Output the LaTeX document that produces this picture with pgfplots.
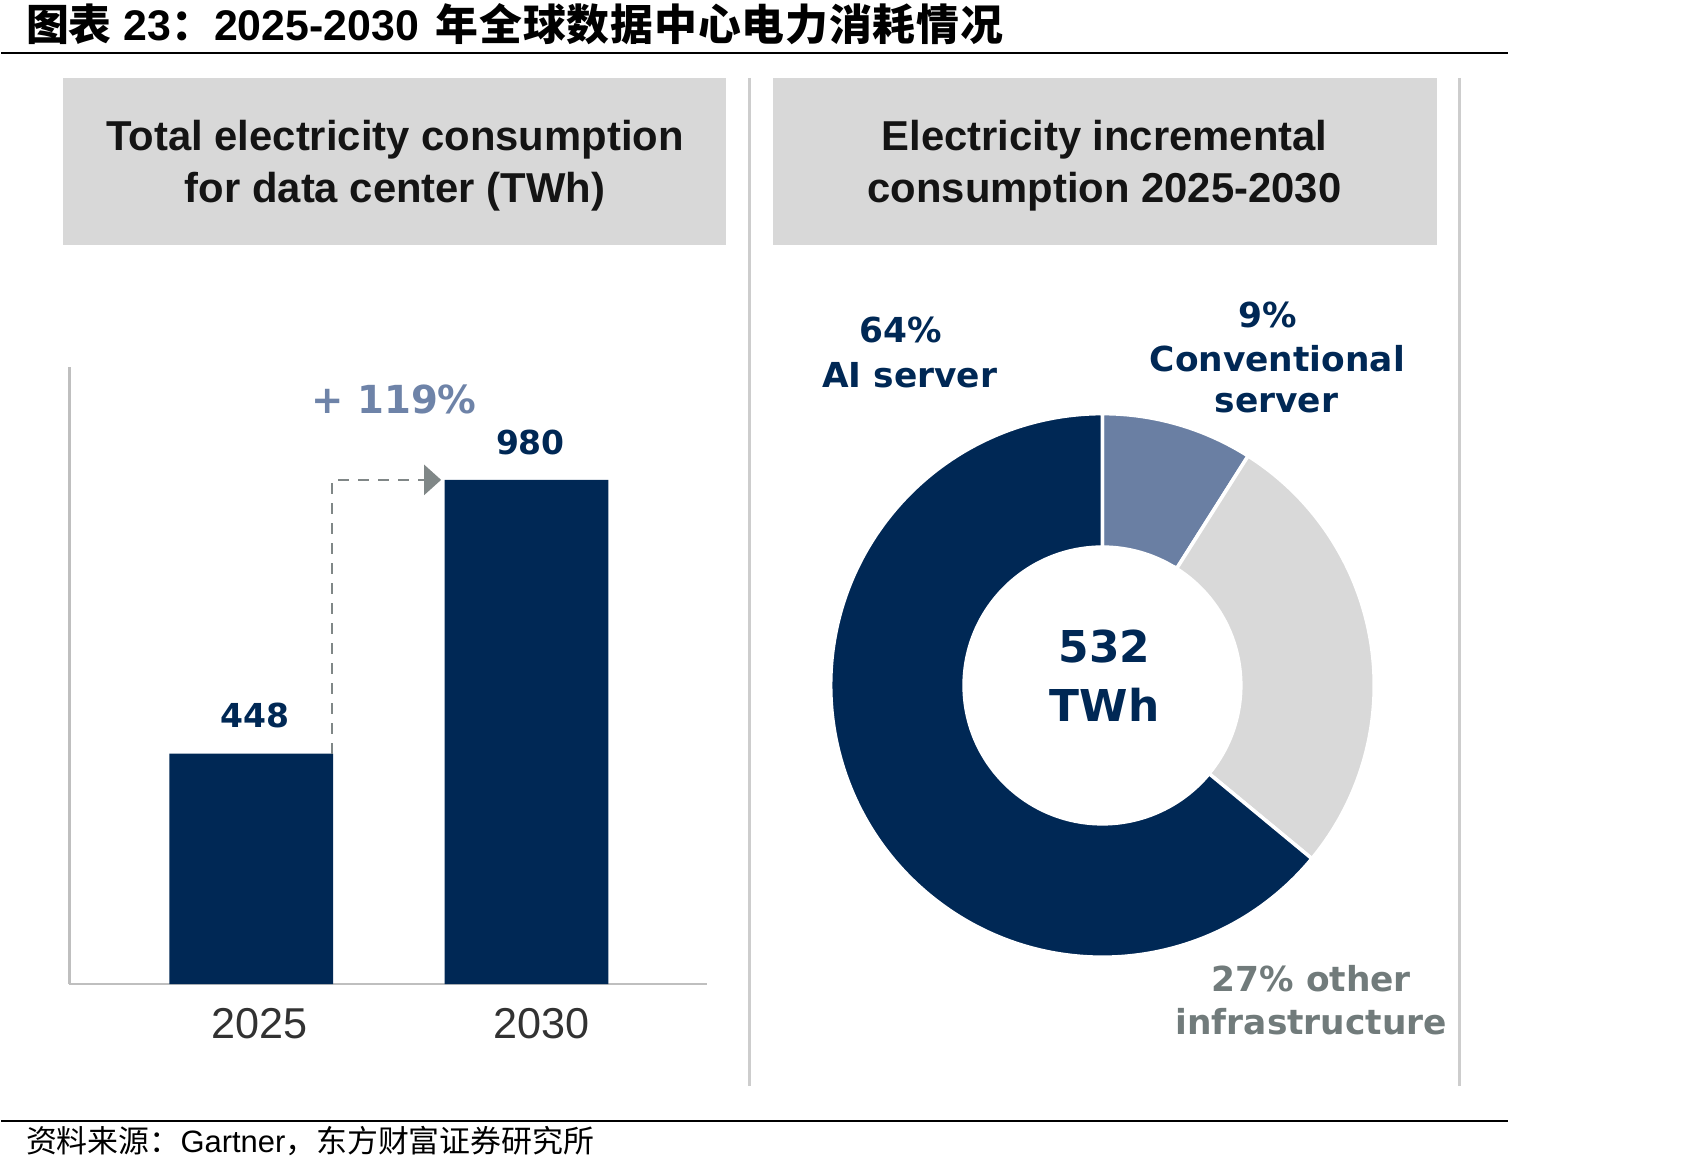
\documentclass[border=0pt]{standalone}
\usepackage{fontspec}
\usepackage{pgfplots}
\pgfplotsset{compat=1.18}
\usetikzlibrary{arrows.meta}
\setmainfont{Liberation Sans}
\newfontfamily\cjk{Noto Sans CJK SC}
\newfontfamily\wide{DejaVu Sans}
\definecolor{navy}{RGB}{0,40,85}
\definecolor{conv}{RGB}{106,127,163}
\definecolor{lightg}{RGB}{217,217,217}
\definecolor{hdr}{RGB}{216,216,216}
\definecolor{plusc}{RGB}{110,131,168}
\definecolor{othergray}{RGB}{113,123,123}
\definecolor{arrowg}{RGB}{128,135,135}
\definecolor{axisg}{RGB}{191,191,191}
\definecolor{divg}{RGB}{205,205,205}
\definecolor{tickc}{RGB}{50,50,50}
\definecolor{hdrtext}{RGB}{20,20,20}
% shares of the 532 TWh increment (%)
\def\shareConv{9}
\def\shareOther{27}
\def\shareAI{64}
\begin{document}
\begin{tikzpicture}
\pgfmathsetmacro\aA{90}
\pgfmathsetmacro\aB{\aA-3.6*\shareConv}
\pgfmathsetmacro\aC{\aB-3.6*\shareOther}
\pgfmathsetmacro\aD{\aC-3.6*\shareAI}
\begin{scope}[x=0.1mm,y=-0.1mm]
\path (0,0) rectangle (1701,1175);
% title
\node[anchor=base west, inner sep=0] at (24,41) {\fontsize{12.2}{14}\selectfont\bfseries {\cjk\bfseries 图表} 23{\cjk\bfseries ：}2025-2030 \hspace{0.5mm}{\cjk\bfseries\addfontfeature{LetterSpace=2} 年全球数据中心电力消耗情况}};
\draw[line width=0.28mm] (0,53) -- (1508,53);
\draw[line width=0.28mm] (0,1122) -- (1508,1122);
\node[anchor=base west, inner sep=0] at (24,1153) {\fontsize{8.8}{10}\selectfont{\cjk 资料来源：}Gartner{\cjk ，东方财富证券研究所}};
% header boxes
\fill[hdr] (62,78) rectangle (725,245);
\fill[hdr] (772,78) rectangle (1437,245);
\draw[divg, line width=0.3mm] (749,78) -- (749,1087);
\draw[divg, line width=0.3mm] (1459,78) -- (1459,1087);
\begin{scope}[every node/.style={inner sep=0, anchor=base, text=hdrtext, font=\fontsize{11.9}{14}\selectfont\bfseries}]
\node at (394,151) {Total electricity consumption};
\node at (394,203) {for data center (TWh)};
\node at (1104,151) {Electricity incremental};
\node at (1104,203) {consumption 2025-2030};
\end{scope}
% annotations
\node[inner sep=0, anchor=base, text=plusc, font=\wide\bfseries\fontsize{11}{13}\selectfont] at (393,414) {+ 119\%};
\begin{scope}[every node/.style={inner sep=0, anchor=base, font=\wide\bfseries\fontsize{9.8}{12}\selectfont}]
\node[text=navy] at (900,343) {64\%};
\node[text=navy] at (909,388) {AI server};
\node[text=navy] at (1267,328) {9\%};
\node[text=navy] at (1277,372) {Conventional};
\node[text=navy] at (1276,413) {server};
\node[text=othergray] at (1311,992) {27\% other};
\node[text=othergray] at (1311,1035) {infrastructure};
\end{scope}
\begin{scope}[every node/.style={inner sep=0, anchor=base, text=navy, font=\wide\bfseries\fontsize{12.5}{15}\selectfont}]
\node at (1104,663) {532};
\node at (1104,722) {TWh};
\end{scope}
\end{scope}
% bar chart
\begin{axis}[
  at={(6.8mm,-98.5mm)}, anchor=south west,
  scale only axis, width=63.8mm, height=61.8mm,
  xmin=-0.6606, xmax=1.6552, ymin=0, ymax=1200,
  axis x line=bottom, axis y line=left,
  axis line style={-, draw=axisg, line width=0.25mm},
  xtick={0.03,1.055}, xticklabels={2025,2030}, ytick=\empty,
  major tick length=0pt,
  xticklabel style={font=\fontsize{12.3}{14}\selectfont, text=tickc, yshift=-1.2mm},
  /pgf/number format/assume math mode=true,
  clip=false,
]
\addplot[ybar, fill=navy, draw=none, bar width=16.4mm,
  nodes near coords,
  every node near coord/.append style={font=\wide\bfseries\fontsize{9.4}{11}\selectfont, text=navy, anchor=south, inner sep=0pt, yshift=2.45mm, xshift=0.4mm}]
  coordinates {(0,448) (1,980)};
\draw[arrowg, line width=0.25mm, dash pattern=on 1.1mm off 0.9mm, -{Triangle[length=1.7mm,width=3mm]}]
  (axis cs:0.294,448) |- (axis cs:0.690,980);
\end{axis}
% donut
\begin{axis}[
  at={(110.2mm,-68.6mm)}, anchor=center,
  scale only axis, width=54.4mm, height=54.4mm,
  xmin=-1, xmax=1, ymin=-1, ymax=1, hide axis, clip=false,
]
\filldraw[fill=conv, draw=white, line width=1pt]
  (axis cs:{0.509*cos(\aA)},{0.509*sin(\aA)}) -- (axis cs:{cos(\aA)},{sin(\aA)})
  arc[start angle=\aA, end angle=\aB, radius=27.2mm]
  -- (axis cs:{0.509*cos(\aB)},{0.509*sin(\aB)})
  arc[start angle=\aB, end angle=\aA, radius=13.85mm] -- cycle;
\filldraw[fill=lightg, draw=white, line width=1pt]
  (axis cs:{0.509*cos(\aB)},{0.509*sin(\aB)}) -- (axis cs:{cos(\aB)},{sin(\aB)})
  arc[start angle=\aB, end angle=\aC, radius=27.2mm]
  -- (axis cs:{0.509*cos(\aC)},{0.509*sin(\aC)})
  arc[start angle=\aC, end angle=\aB, radius=13.85mm] -- cycle;
\filldraw[fill=navy, draw=white, line width=1pt]
  (axis cs:{0.509*cos(\aC)},{0.509*sin(\aC)}) -- (axis cs:{cos(\aC)},{sin(\aC)})
  arc[start angle=\aC, end angle=\aD, radius=27.2mm]
  -- (axis cs:{0.509*cos(\aD)},{0.509*sin(\aD)})
  arc[start angle=\aD, end angle=\aC, radius=13.85mm] -- cycle;
\end{axis}
\end{tikzpicture}
\end{document}
